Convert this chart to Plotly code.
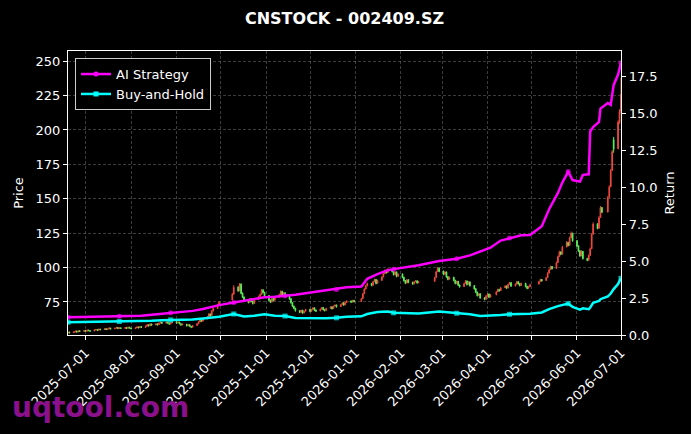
import pandas as pd
import plotly.graph_objects as go

TITLE = "CNSTOCK - 002409.SZ"

start_date = "2025-06-19"
end_date = "2026-07-01"

# exchange closed on these weekdays
market_holidays = [
    "2025-10-01", "2025-10-02", "2025-10-03", "2025-10-06", "2025-10-07", "2025-10-08",
    "2026-01-01", "2026-01-02",
    "2026-02-16", "2026-02-17", "2026-02-18", "2026-02-19", "2026-02-20", "2026-02-23",
    "2026-04-06",
    "2026-05-01", "2026-05-04", "2026-05-05",
    "2026-06-19",
]

# daily OHLC, one row per week
opens = [
    52.4, 53.1,
    52.7, 53.3, 53.9, 53.2, 54.1,
    53.6, 54.3, 53.8, 54.6, 54.2,
    53.9, 54.7, 55.1, 54.4, 55.3,
    54.9, 55.6, 55.0, 55.4, 56.1,
    55.5, 56.0, 56.5, 55.7, 56.3,
    55.8, 56.4, 55.9, 56.7, 56.1,
    55.6, 56.2, 56.9, 56.3, 57.1,
    56.6, 57.5, 58.4, 57.7, 59.0,
    58.3, 59.1, 58.5, 59.7, 60.3,
    59.6, 60.5, 59.8, 59.0, 59.9,
    60.6, 59.7, 60.4, 59.2, 58.3,
    58.9, 57.7, 58.5, 57.3, 56.7,
    57.9, 59.1, 60.5, 61.9, 61.1,
    62.7, 64.1, 66.3, 65.1, 68.5,
    70.3, 72.6,
    76.5, 80.7,
    85.8, 83.2, 88.0, 81.4, 78.6,
    76.2, 74.8, 77.4, 75.5, 74.0,
    76.7, 79.1, 80.6, 83.8, 82.0,
    79.7, 76.4, 75.0, 77.6, 76.3,
    78.5, 80.4, 82.8, 80.0, 81.7,
    79.2, 77.4, 74.6, 72.0, 70.5,
    68.8, 67.6, 69.0, 67.1, 68.4,
    69.7, 68.3, 69.6, 70.8, 69.2,
    68.5, 69.8, 71.0, 69.6, 68.9,
    70.4, 71.5, 70.3, 72.0, 72.8,
    71.7, 73.2, 74.4, 73.0, 74.7,
    75.8, 75.0, 76.2,
    75.4, 77.6, 81.0, 84.4, 86.7,
    88.5, 87.2, 89.8, 91.4, 88.6,
    90.7, 93.2, 95.6, 98.0, 96.4,
    98.8, 97.2, 95.0, 96.8, 93.7,
    95.4, 93.0, 90.6, 88.8, 91.2,
    89.4, 88.2, 89.7, 90.4, 89.0,
    90.0, 92.7, 97.0, 99.6,
    97.4, 95.2, 96.8, 93.4, 91.6,
    93.0, 90.8, 88.6, 90.0, 87.4,
    86.2, 88.4, 90.3, 87.8, 89.6,
    87.0, 84.7, 82.2, 79.8, 81.0,
    78.1, 77.0, 79.4, 80.8, 78.6,
    80.2, 82.5, 84.2, 83.3,
    85.4, 86.6, 85.2, 87.8, 89.1,
    86.7, 88.0, 89.8, 88.4, 87.1,
    88.6, 86.4, 85.0, 86.2,
    88.0, 89.8, 91.4,
    90.6, 92.8, 96.0, 98.6, 100.8,
    99.4, 103.7, 108.0, 111.4, 109.8,
    115.0, 118.4, 116.2, 121.7, 125.0,
    119.6, 115.8, 112.2, 108.6, 111.8,
    106.7, 105.4, 108.8, 113.7, 124.2,
    131.8, 128.6, 136.4, 143.7,
    140.4, 151.0, 158.8, 170.6, 193.0,
    186.4, 205.8, 213.6,
]

highs = [
    53.5, 53.4,
    53.6, 54.2, 54.1, 54.4, 54.3,
    54.6, 54.5, 54.9, 54.8, 54.4,
    55.0, 55.4, 55.3, 55.6, 55.5,
    55.9, 55.8, 55.7, 56.5, 56.2,
    56.3, 56.9, 56.7, 56.6, 56.4,
    56.7, 56.5, 57.0, 56.9, 56.2,
    56.5, 57.2, 57.0, 57.5, 57.3,
    57.9, 58.8, 58.6, 59.5, 59.2,
    59.6, 59.3, 60.1, 60.8, 60.5,
    60.9, 60.7, 60.0, 60.2, 61.0,
    60.8, 60.8, 60.6, 59.4, 59.3,
    59.0, 58.9, 58.6, 57.5, 58.3,
    59.6, 61.0, 62.5, 62.2, 63.3,
    64.8, 66.9, 66.6, 69.0, 71.0,
    73.3, 75.6,
    81.6, 87.2,
    86.5, 88.8, 88.5, 81.9, 79.0,
    76.8, 77.9, 77.7, 75.9, 77.1,
    79.6, 81.2, 84.5, 84.2, 82.4,
    80.0, 76.8, 78.0, 77.9, 79.0,
    81.0, 83.4, 83.1, 82.2, 82.0,
    79.5, 77.7, 74.9, 72.3, 70.8,
    69.1, 69.4, 69.3, 68.7, 70.1,
    70.0, 70.0, 71.2, 71.1, 69.5,
    70.2, 71.4, 71.3, 69.9, 70.8,
    71.9, 71.8, 72.4, 73.2, 73.1,
    73.6, 74.8, 74.7, 75.1, 76.2,
    76.1, 76.6, 76.5,
    78.0, 81.5, 85.0, 87.3, 89.1,
    88.8, 90.3, 92.0, 91.7, 91.2,
    93.7, 96.2, 98.6, 98.3, 99.5,
    99.1, 97.5, 97.3, 97.1, 95.9,
    95.7, 93.3, 90.9, 91.7, 91.5,
    89.7, 90.1, 90.8, 90.7, 90.2,
    93.2, 97.6, 100.4, 99.9,
    97.7, 97.3, 97.1, 93.7, 93.5,
    93.3, 91.1, 90.5, 90.3, 87.7,
    88.9, 90.8, 90.6, 90.1, 89.9,
    87.3, 85.0, 82.5, 81.5, 81.3,
    78.4, 79.9, 81.3, 81.1, 80.7,
    83.0, 84.7, 84.5, 85.9,
    87.1, 86.9, 88.3, 89.6, 89.4,
    88.5, 90.3, 90.1, 88.7, 89.1,
    88.9, 86.7, 86.7, 88.2,
    90.3, 91.9, 91.7,
    93.3, 96.6, 99.2, 101.4, 101.1,
    104.4, 108.7, 112.2, 111.7, 115.8,
    119.3, 118.7, 122.5, 126.2, 125.3,
    119.9, 116.1, 112.5, 112.6, 112.1,
    107.0, 109.6, 114.5, 125.0, 132.8,
    132.1, 137.4, 144.8, 144.0,
    152.0, 159.8, 171.6, 185.5, 195.0,
    207.0, 215.0, 238.0,
]

lows = [
    52.0, 52.2,
    52.4, 53.0, 52.8, 53.0, 53.2,
    53.4, 53.4, 53.6, 53.9, 53.4,
    53.7, 54.5, 54.0, 54.2, 54.5,
    54.7, 54.6, 54.8, 55.2, 55.1,
    55.3, 55.8, 55.3, 55.5, 55.4,
    55.6, 55.5, 55.7, 55.8, 55.2,
    55.4, 56.0, 55.9, 56.1, 56.2,
    56.4, 57.3, 57.2, 57.5, 57.9,
    58.1, 58.0, 58.3, 59.4, 59.1,
    59.4, 59.3, 58.5, 58.8, 59.7,
    59.2, 59.5, 58.8, 57.8, 58.1,
    57.2, 57.5, 56.8, 56.0, 56.5,
    57.7, 58.9, 60.3, 60.4, 60.9,
    62.5, 63.9, 64.4, 64.9, 68.2,
    70.0, 72.3,
    76.2, 80.4,
    82.4, 82.8, 80.6, 77.8, 75.2,
    73.9, 74.5, 74.8, 73.2, 73.7,
    76.4, 78.8, 80.2, 81.2, 78.9,
    75.6, 74.2, 74.7, 75.5, 76.0,
    78.2, 80.1, 79.2, 79.7, 78.4,
    76.6, 73.8, 71.2, 69.7, 68.0,
    66.8, 67.3, 66.3, 66.8, 68.1,
    67.5, 68.0, 69.3, 68.4, 67.7,
    68.2, 69.5, 68.8, 68.1, 68.6,
    70.1, 69.5, 70.0, 71.7, 70.9,
    71.4, 72.9, 72.2, 72.7, 74.4,
    74.2, 74.7, 74.6,
    75.1, 77.3, 80.7, 84.1, 86.4,
    86.4, 86.9, 89.5, 87.8, 88.3,
    90.4, 92.9, 95.3, 95.6, 96.1,
    96.4, 94.2, 94.7, 92.9, 93.4,
    92.2, 89.8, 88.0, 88.5, 88.6,
    87.4, 87.9, 89.4, 88.2, 88.7,
    89.7, 92.4, 96.7, 96.6,
    94.4, 94.9, 92.6, 90.8, 91.3,
    90.0, 87.8, 88.3, 86.6, 85.4,
    85.9, 88.1, 87.0, 87.5, 86.2,
    83.9, 81.4, 79.0, 79.5, 77.3,
    76.2, 76.7, 79.1, 77.8, 78.3,
    79.9, 82.2, 82.5, 83.0,
    85.1, 84.4, 84.9, 87.5, 85.9,
    86.4, 87.7, 87.6, 86.3, 86.8,
    85.6, 84.2, 84.7, 85.9,
    87.7, 89.5, 89.8,
    90.3, 92.5, 95.7, 98.3, 98.6,
    99.1, 103.4, 107.7, 109.0, 109.5,
    114.7, 115.4, 115.9, 121.4, 118.8,
    115.0, 111.4, 107.8, 108.3, 105.9,
    104.6, 105.1, 108.5, 113.4, 123.9,
    127.8, 128.3, 136.1, 139.6,
    140.1, 150.7, 158.5, 170.3, 183.5,
    186.0, 204.5, 212.0,
]

closes = [
    53.0, 52.6,
    53.2, 53.8, 53.1, 54.0, 53.6,
    54.2, 53.7, 54.5, 54.1, 53.8,
    54.6, 55.0, 54.3, 55.2, 54.8,
    55.5, 54.9, 55.3, 56.0, 55.4,
    55.9, 56.4, 55.6, 56.2, 55.7,
    56.3, 55.8, 56.6, 56.0, 55.5,
    56.1, 56.8, 56.2, 57.0, 56.5,
    57.4, 58.3, 57.6, 58.9, 58.2,
    59.0, 58.4, 59.6, 60.2, 59.5,
    60.4, 59.7, 58.9, 59.8, 60.5,
    59.6, 60.3, 59.1, 58.2, 58.8,
    57.6, 58.4, 57.2, 56.6, 57.8,
    59.0, 60.4, 61.8, 61.0, 62.6,
    64.0, 66.2, 65.0, 68.4, 70.2,
    72.5, 74.8,
    80.5, 85.6,
    83.0, 87.8, 81.2, 78.4, 76.0,
    74.6, 77.2, 75.3, 73.8, 76.5,
    78.9, 80.4, 83.6, 81.8, 79.5,
    76.2, 74.8, 77.4, 76.1, 78.3,
    80.2, 82.6, 79.8, 81.5, 79.0,
    77.2, 74.4, 71.8, 70.3, 68.6,
    67.4, 68.8, 66.9, 68.2, 69.5,
    68.1, 69.4, 70.6, 69.0, 68.3,
    69.6, 70.8, 69.4, 68.7, 70.2,
    71.3, 70.1, 71.8, 72.6, 71.5,
    73.0, 74.2, 72.8, 74.5, 75.6,
    74.8, 76.0, 75.2,
    77.4, 80.8, 84.2, 86.5, 88.3,
    87.0, 89.6, 91.2, 88.4, 90.5,
    93.0, 95.4, 97.8, 96.2, 98.6,
    97.0, 94.8, 96.6, 93.5, 95.2,
    92.8, 90.4, 88.6, 91.0, 89.2,
    88.0, 89.5, 90.2, 88.8, 89.6,
    92.5, 96.8, 99.4, 97.2,
    95.0, 96.6, 93.2, 91.4, 92.8,
    90.6, 88.4, 89.8, 87.2, 86.0,
    88.2, 90.1, 87.6, 89.4, 86.8,
    84.5, 82.0, 79.6, 80.8, 77.9,
    76.8, 79.2, 80.6, 78.4, 80.0,
    82.3, 84.0, 83.1, 85.2,
    86.4, 85.0, 87.6, 88.9, 86.5,
    87.8, 89.6, 88.2, 86.9, 88.4,
    86.2, 84.8, 86.0, 87.5,
    89.6, 91.2, 90.4,
    92.6, 95.8, 98.4, 100.6, 99.2,
    103.5, 107.8, 111.2, 109.6, 114.8,
    118.2, 116.0, 121.5, 124.8, 119.4,
    115.6, 112.0, 108.4, 111.6, 106.5,
    105.2, 108.6, 113.5, 124.0, 131.6,
    128.4, 136.2, 143.5, 140.2,
    150.8, 158.6, 170.4, 184.2, 186.0,
    205.6, 213.4, 226.0,
]

# strategy curves (right axis)
line_dates = [
    "2025-06-19", "2025-06-27", "2025-07-04", "2025-07-11", "2025-07-18",
    "2025-07-24", "2025-08-01", "2025-08-08", "2025-08-15", "2025-08-22",
    "2025-08-28", "2025-09-05", "2025-09-12", "2025-09-19", "2025-09-26",
    "2025-09-30", "2025-10-10", "2025-10-17", "2025-10-24", "2025-10-31",
    "2025-11-07", "2025-11-14", "2025-11-21", "2025-11-28", "2025-12-05",
    "2025-12-12", "2025-12-19", "2025-12-26", "2026-01-05", "2026-01-09",
    "2026-01-16", "2026-01-23", "2026-01-27", "2026-02-06", "2026-02-13",
    "2026-02-27", "2026-03-06", "2026-03-11", "2026-03-20", "2026-03-27",
    "2026-04-03", "2026-04-10", "2026-04-16", "2026-04-24", "2026-04-30",
    "2026-05-08", "2026-05-13", "2026-05-19", "2026-05-22", "2026-05-26",
    "2026-05-29", "2026-06-03", "2026-06-05", "2026-06-09", "2026-06-10",
    "2026-06-12", "2026-06-16", "2026-06-17", "2026-06-22", "2026-06-24",
    "2026-06-26", "2026-06-29", "2026-07-01",
]

ai_strategy = [
    1.20, 1.21, 1.22, 1.23, 1.24, 1.26, 1.27, 1.30, 1.36, 1.43,
    1.50, 1.56, 1.63, 1.76, 1.94, 2.02, 2.20, 2.30, 2.42, 2.55,
    2.58, 2.63, 2.72, 2.82, 2.92, 3.00, 3.08, 3.22, 3.28, 3.80,
    4.12, 4.38, 4.45, 4.60, 4.72, 5.00, 5.10, 5.15, 5.38, 5.62,
    5.90, 6.38, 6.55, 6.74, 6.76, 7.35, 8.50, 9.60, 10.30, 11.04,
    10.47, 10.36, 10.82, 10.86, 13.75, 14.05, 14.40, 15.30, 15.68, 15.55,
    16.90, 17.60, 18.40,
]

buy_and_hold = [
    0.86, 0.87, 0.88, 0.89, 0.90, 0.91, 0.93, 0.95, 0.97, 1.00,
    1.02, 1.03, 1.04, 1.12, 1.20, 1.24, 1.42, 1.25, 1.30, 1.40,
    1.30, 1.28, 1.15, 1.13, 1.14, 1.14, 1.16, 1.24, 1.26, 1.42,
    1.55, 1.58, 1.50, 1.45, 1.45, 1.58, 1.52, 1.47, 1.40, 1.28,
    1.29, 1.35, 1.40, 1.42, 1.44, 1.52, 1.75, 1.95, 2.02, 2.12,
    1.90, 1.72, 1.80, 1.74, 1.85, 2.18, 2.30, 2.42, 2.60, 2.80,
    3.10, 3.45, 3.83,
]

UP = "#f04a3e"
DOWN = "#5cf05a"
GRID = "rgba(150,150,150,0.4)"

trade_days = pd.bdate_range(start_date, end_date)
trade_days = trade_days[~trade_days.isin(pd.to_datetime(market_holidays))]
assert len(trade_days) == len(opens) == len(highs) == len(lows) == len(closes), len(trade_days)
assert len(line_dates) == len(ai_strategy) == len(buy_and_hold)

# a marker every 25 trading days
marker_days = set(trade_days[::25].strftime("%Y-%m-%d"))
marker_sizes = [5 if d in marker_days else 0 for d in line_dates]

fig = go.Figure()

fig.add_trace(go.Candlestick(
    x=trade_days, open=opens, high=highs, low=lows, close=closes,
    increasing=dict(line=dict(color=UP, width=1), fillcolor=UP),
    decreasing=dict(line=dict(color=DOWN, width=1), fillcolor=DOWN),
    whiskerwidth=0, showlegend=False, yaxis="y",
))

series = [
    ("AI Strategy", ai_strategy, "#ff00ff", "circle"),
    ("Buy-and-Hold", buy_and_hold, "#00ffff", "square"),
]
for name, vals, color, symbol in series:
    fig.add_trace(go.Scatter(
        x=line_dates, y=vals, mode="lines+markers", yaxis="y2",
        line=dict(color=color, width=2.5),
        marker=dict(symbol=symbol, size=marker_sizes, color=color, line=dict(width=0)),
        showlegend=False,
    ))
    # legend entry only
    fig.add_trace(go.Scatter(
        x=[None], y=[None], mode="lines+markers", yaxis="y2", name=name,
        line=dict(color=color, width=2.5),
        marker=dict(symbol=symbol, size=5, color=color, line=dict(width=0)),
    ))

axis_common = dict(
    showline=True, linecolor="white", linewidth=1.2,
    ticks="outside", ticklen=4, tickcolor="white",
    zeroline=False, color="white",
)

fig.update_layout(
    width=691, height=434,
    paper_bgcolor="black", plot_bgcolor="black",
    margin=dict(l=68, r=70, t=51, b=99),
    font=dict(family="DejaVu Sans", size=13, color="white"),
    title=dict(text=f"<b>{TITLE}</b>", x=0.5, xref="paper", xanchor="center",
               y=1 - 18 / 434, yref="container", yanchor="middle",
               font=dict(size=16, color="white")),
    xaxis=dict(
        type="date", range=[start_date, end_date],
        tick0="2025-07-01", dtick="M1", tickformat="%Y-%m-%d", tickangle=-45,
        showgrid=True, gridcolor=GRID, griddash="3px,2px", gridwidth=0.6,
        mirror=True, rangeslider=dict(visible=False), **axis_common,
    ),
    yaxis=dict(
        range=[51, 257.4], tick0=0, dtick=25,
        showgrid=True, gridcolor=GRID, griddash="3px,2px", gridwidth=0.6,
        mirror=True, title=dict(text="Price", standoff=8, font=dict(size=13)),
        **axis_common,
    ),
    yaxis2=dict(
        overlaying="y", side="right", range=[0, 19.19], tick0=0, dtick=2.5,
        tickformat=".1f", showgrid=False,
        title=dict(text="Return", standoff=8, font=dict(size=13)), **axis_common,
    ),
    legend=dict(
        x=0.0127, y=0.975, xanchor="left", yanchor="top",
        bgcolor="black", bordercolor="#cccccc", borderwidth=1,
        font=dict(size=13, color="white"),
    ),
)

fig.add_annotation(
    text="<b>uqtool.com</b>", xref="paper", yref="paper",
    x=-0.105, y=-0.257, xanchor="left", yanchor="middle", showarrow=False,
    font=dict(size=28, color="#8b108b"),
)

fig.write_html("out.html", config={"displayModeBar": False},
               post_script="document.body.style.margin='0';")
